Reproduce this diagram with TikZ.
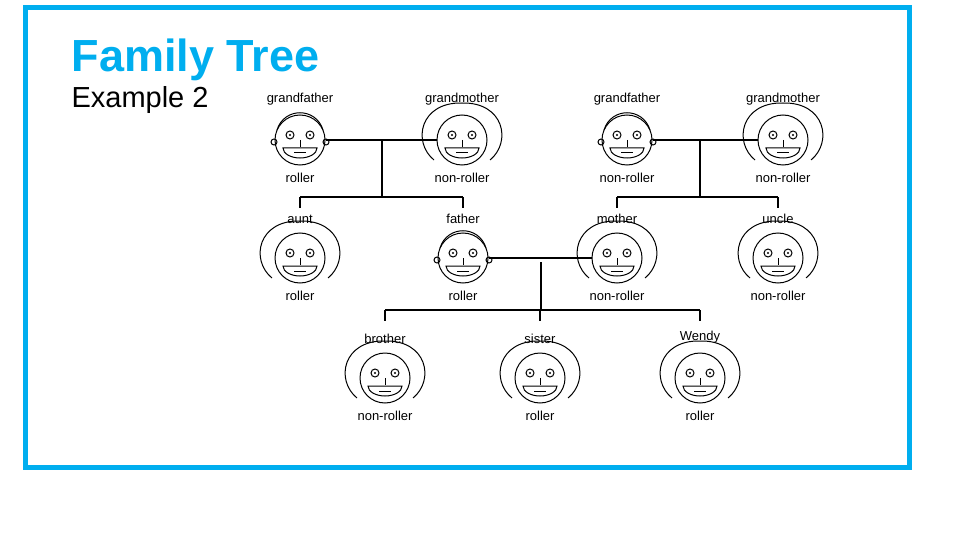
\documentclass[tikz,border=0pt]{standalone}
\usepackage{fontspec}
\setmainfont{Liberation Sans}
\usetikzlibrary{positioning}
\definecolor{frameblue}{RGB}{0,174,239}
\tikzset{
  head/.style={draw,circle,minimum size=50pt,inner sep=0pt,line width=1pt},
  who/.style={font=\fontsize{13}{13}\selectfont,inner sep=1pt},
  line/.style={line width=1.4pt},
  features/.pic={
    \draw[line width=1pt] (-10,-5) circle (4pt) (10,-5) circle (4pt);
    \fill (-10,-5) circle (1.2pt) (10,-5) circle (1.2pt);
    \draw[line width=1pt] (0,0) -- (0,7);
    \draw[line width=1pt] (-17,8) -- (17,8) arc (0:180:17 and 10) -- cycle;
    \draw[line width=1pt] (-6,13) -- (6,13);
  },
  girl/.pic={
    \draw[line width=1pt] (-28,20) .. controls (-50,2) and (-42,-38) .. (0,-37)
      .. controls (42,-38) and (50,2) .. (28,20);
  },
  boy/.pic={
    \draw[line width=1pt] (-23,-10) .. controls (-16,-33) and (16,-33) .. (23,-10);
    \draw[line width=1pt] (-26,2) circle (3pt) (26,2) circle (3pt);
  }
}
\newcommand\person[6]{%
  \node[head] (#1) at (#2,#3) {};
  \pic at (#1) {features};
  \pic at (#1) {#4};
  \node[who,above=8pt of #1] (#1-name) {#5};
  \node[who,below=6pt of #1] (#1-kind) {#6};
}
\begin{document}
\begin{tikzpicture}[x=1pt,y=-1pt]
\useasboundingbox (0,0) rectangle (960,540);
\draw[frameblue,line width=5pt] (25,8) rectangle (909,467);
\node[anchor=west,text=frameblue,font=\fontsize{45}{45}\selectfont\bfseries] (title) at (68,60) {Family Tree};
\node[anchor=west,font=\fontsize{29}{29}\selectfont] (sub) at (68,100) {Example 2};

\person{gfa}{300}{140}{boy}{grandfather}{roller}
\person{gma}{462}{140}{girl}{grandmother}{non-roller}
\person{gfb}{627}{140}{boy}{grandfather}{non-roller}
\person{gmb}{783}{140}{girl}{grandmother}{non-roller}

\person{aunt}{300}{258}{girl}{aunt}{roller}
\person{father}{463}{258}{boy}{father}{roller}
\person{mother}{617}{258}{girl}{mother}{non-roller}
\person{uncle}{778}{258}{girl}{uncle}{non-roller}

\person{brother}{385}{378}{girl}{brother}{non-roller}
\person{sister}{540}{378}{girl}{sister}{roller}
\person{wendy}{700}{378}{girl}{Wendy}{roller}

% couples and children
\coordinate (ka) at (382,140);
\coordinate (kb) at (700,140);
\coordinate (kc) at (541,262);
\draw[line] (gfa) -- (gma);
\draw[line] (ka) -- (382,197);
\draw[line] (aunt-name.north |- 0,197) -- (father-name.north |- 0,197);
\draw[line] (aunt-name.north |- 0,197) -- ++(0,11);
\draw[line] (father-name.north |- 0,197) -- ++(0,11);
\draw[line] (gfb) -- (gmb);
\draw[line] (kb) -- (700,197);
\draw[line] (mother-name.north |- 0,197) -- (uncle-name.north |- 0,197);
\draw[line] (mother-name.north |- 0,197) -- ++(0,11);
\draw[line] (uncle-name.north |- 0,197) -- ++(0,11);
\draw[line] (father) -- (mother);
\draw[line] (kc) -- (541,310);
\draw[line] (brother-name.north |- 0,310) -- (wendy-name.north |- 0,310);
\draw[line] (brother-name.north |- 0,310) -- ++(0,11);
\draw[line] (sister-name.north |- 0,310) -- ++(0,11);
\draw[line] (wendy-name.north |- 0,310) -- ++(0,11);
\end{tikzpicture}
\end{document}
